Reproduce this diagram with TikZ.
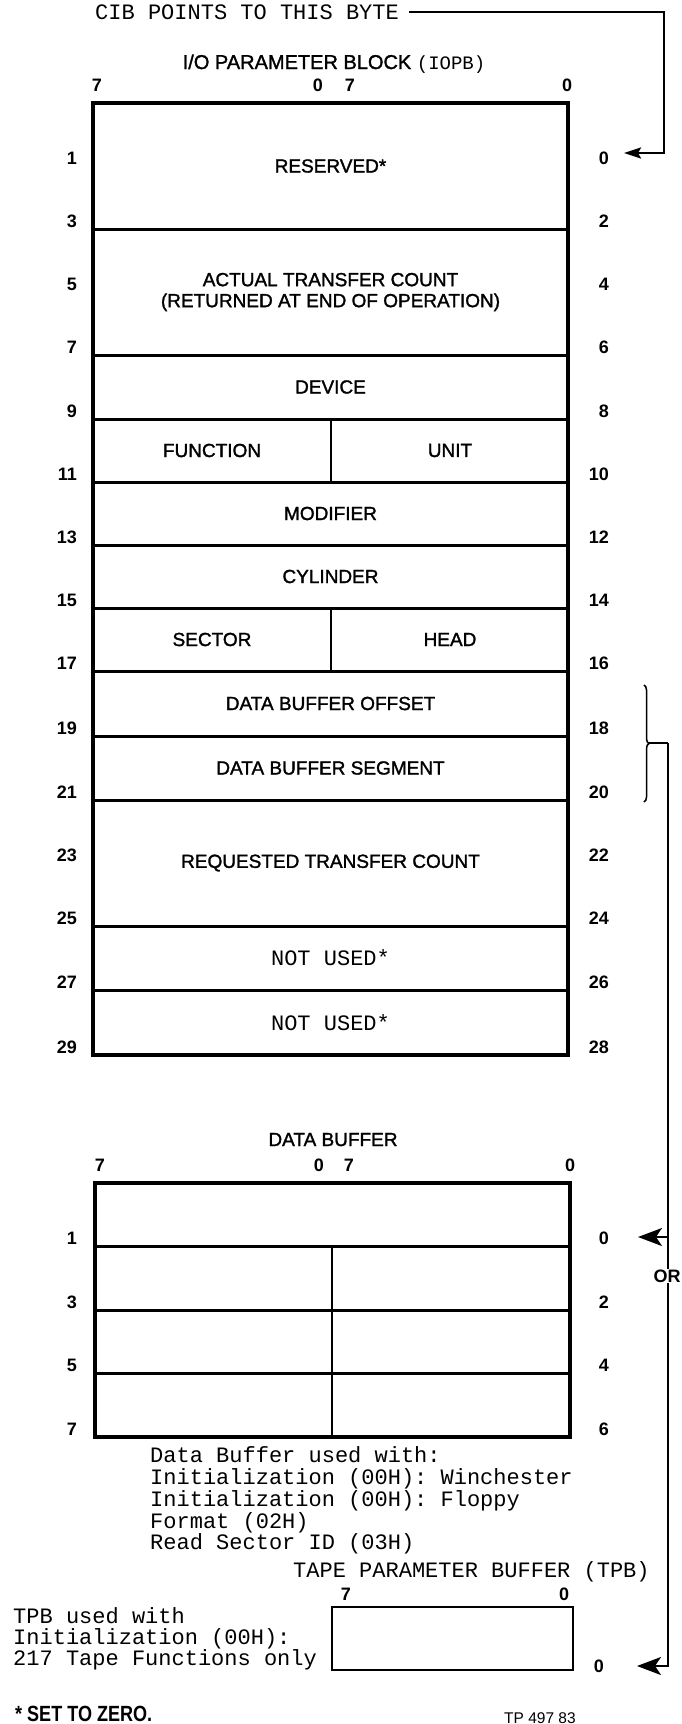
\documentclass[tikz,border=0pt]{standalone}
\usepackage{fontspec}
\setmainfont{Liberation Sans}
\newfontfamily\medsans[FakeBold=1.5]{Liberation Sans}
\newfontfamily\cour{Liberation Mono}
\newfontfamily\narrowsans[FakeStretch=0.82]{Liberation Sans}
\usetikzlibrary{arrows.meta,decorations.pathreplacing}
\begin{document}
\begin{tikzpicture}[x=1pt,y=-1pt,
  field/.style={font=\medsans\fontsize{19}{21}\selectfont, inner sep=0pt, align=center},
  mono/.style={font=\cour\fontsize{22}{22}\selectfont, inner sep=0pt},
  bitlbl/.style={font=\bfseries\fontsize{18}{19}\selectfont, inner sep=0pt},
  outerbox/.style={line width=4pt},
  rowline/.style={line width=3pt},
  divider/.style={line width=1.5pt},
  conn/.style={line width=2.5pt},
  smalltip/.style={-{Stealth[length=17pt,width=11pt,inset=3pt]}},
  bigtip/.style={-{Stealth[length=24pt,width=18pt,inset=6pt]}},
]
\useasboundingbox (0,0) rectangle (681,1724);

% ---------- CIB pointer ----------
\node[mono, anchor=base west] (cib) at (95,19) {CIB POINTS TO THIS BYTE};
\coordinate (cibA) at (664,12);
\coordinate (cibT) at (624,153);
\draw[conn, smalltip] ([xshift=10pt]cib.east |- cibA) -- (cibA) |- (cibT);

% ---------- IOPB ----------
\node[field, anchor=base, font=\medsans\fontsize{20}{21}\selectfont] (iopbtitle) at (334,69) {I/O PARAMETER BLOCK {\cour\fontsize{19}{19}\selectfont(IOPB)}};
\node[bitlbl] (it7a) at (97,85) {7};
\node[bitlbl] (it0a) at (318,85) {0};
\node[bitlbl] (it7b) at (350,85) {7};
\node[bitlbl] (it0b) at (567,85) {0};

\foreach \y in {229,355,419,482,545,608,671,736,800,926,990}
  \draw[rowline] (93,\y) -- (568,\y);
\draw[divider] (331,419) -- (331,482);
\draw[divider] (331,608) -- (331,671);
\draw[outerbox] (93,103) rectangle (568,1055);

\node[field] (reserved) at (330.5,166) {RESERVED*};
\node[field] (actual) at (330.5,292) {ACTUAL TRANSFER COUNT\\(RETURNED AT END OF OPERATION)};
\node[field] (device) at (330.5,387) {DEVICE};
\node[field] (function) at (212,450.5) {FUNCTION};
\node[field] (unit) at (450,450.5) {UNIT};
\node[field] (modifier) at (330.5,513.5) {MODIFIER};
\node[field] (cylinder) at (330.5,576.5) {CYLINDER};
\node[field] (sector) at (212,639.5) {SECTOR};
\node[field] (head) at (450,639.5) {HEAD};
\node[field] (dboff) at (330.5,703.5) {DATA BUFFER OFFSET};
\node[field] (dbseg) at (330.5,768) {DATA BUFFER SEGMENT};
\node[field] (rtc) at (330.5,863) {REQUESTED TRANSFER COUNT};
\node[mono] (nu1) at (330.5,958) {NOT USED*};
\node[mono] (nu2) at (330.5,1022.5) {NOT USED*};

\foreach \n/\y in {1/166,3/229,5/292,7/355,9/419,11/482,13/545,15/608,17/671,19/736,21/800,23/863,25/926,27/990,29/1055}{
  \node[bitlbl, anchor=east] (iol\n) at (77,\y-8) {\n};
  \pgfmathtruncatemacro{\m}{\n-1}
  \node[bitlbl, anchor=east] (ior\m) at (609,\y-8) {\m};
}

% ---------- brace and OR connector ----------
\draw[line width=1.5pt, decorate, decoration={brace, amplitude=5pt}] (644,685) -- (644,802);
\coordinate (btip) at (649,743);
\coordinate (bcorner) at (668,743);
\coordinate (dbT) at (638,1237);
\coordinate (tpbT) at (637,1666);
\coordinate (dbJ) at (668,1237);
\draw[line width=2pt] (btip) -- (bcorner);
\draw[line width=2pt, bigtip] (bcorner) |- (tpbT);
\draw[line width=2pt, bigtip] (dbJ) -- (dbT);
\node[fill=white, inner sep=1pt, font=\bfseries\fontsize{18}{19}\selectfont] (or) at (667,1276) {OR};

% ---------- DATA BUFFER ----------
\node[field, anchor=base] (dbtitle) at (333,1146) {DATA BUFFER};
\node[bitlbl] (dt7a) at (100,1165) {7};
\node[bitlbl] (dt0a) at (319,1165) {0};
\node[bitlbl] (dt7b) at (349,1165) {7};
\node[bitlbl] (dt0b) at (570,1165) {0};
\foreach \y in {1246,1310,1373}
  \draw[rowline] (95,\y) -- (570,\y);
\draw[divider] (332,1246) -- (332,1437);
\draw[outerbox] (95,1183) rectangle (570,1437);
\foreach \n/\y in {1/1246,3/1310,5/1373,7/1437}{
  \node[bitlbl, anchor=east] (dbl\n) at (77,\y-8) {\n};
  \pgfmathtruncatemacro{\m}{\n-1}
  \node[bitlbl, anchor=east] (dbr\m) at (609,\y-8) {\m};
}

\node[mono, anchor=base west] (dbu1) at (150,1462) {Data Buffer used with:};
\node[mono, anchor=base west] (dbu2) at (150,1484) {Initialization (00H): Winchester};
\node[mono, anchor=base west] (dbu3) at (150,1506) {Initialization (00H): Floppy};
\node[mono, anchor=base west] (dbu4) at (150,1528) {Format (02H)};
\node[mono, anchor=base west] (dbu5) at (150,1549) {Read Sector ID (03H)};

% ---------- TPB ----------
\node[mono, anchor=base west] (tpbtitle) at (293,1577) {TAPE PARAMETER BUFFER (TPB)};
\node[bitlbl] (tt7) at (346,1594) {7};
\node[bitlbl] (tt0) at (564,1594) {0};
\draw[line width=2.5pt] (332,1607) rectangle (573,1670);
\node[bitlbl, anchor=east] (tr0) at (604,1666) {0};
\node[mono, anchor=base west] (tpu1) at (13,1623) {TPB used with};
\node[mono, anchor=base west] (tpu2) at (13,1644) {Initialization (00H):};
\node[mono, anchor=base west] (tpu3) at (13,1665) {217 Tape Functions only};

% ---------- footer ----------
\node[anchor=base west, inner sep=0pt, font=\narrowsans\bfseries\fontsize{22}{22}\selectfont] (setzero) at (15,1721) {* SET TO ZERO.};
\node[anchor=base west, inner sep=0pt, font=\fontsize{15.5}{16}\selectfont] (tpnum) at (504,1723) {TP 497 83};
\end{tikzpicture}
\end{document}
